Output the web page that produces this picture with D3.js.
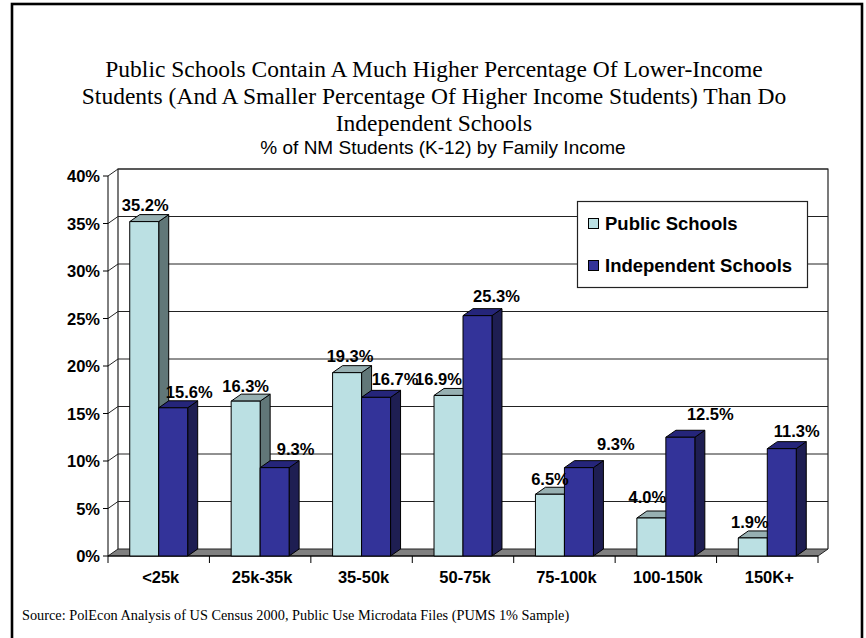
<!DOCTYPE html>
<html><head><meta charset="utf-8">
<script src="https://cdn.jsdelivr.net/npm/d3@7"></script>
<style>body{margin:0;background:#fff}svg{display:block}</style>
</head><body>
<svg id="c" width="866" height="638"></svg>
<script>
// ---- data ----
const categories = ["<25k","25k-35k","35-50k","50-75k","75-100k","100-150k","150K+"];
const seriesNames = ["Public Schools","Independent Schools"];
const publicValues = [35.2,16.3,19.3,16.9,6.5,4.0,1.9];
const independentValues = [15.6,9.3,16.7,25.3,9.3,12.5,11.3];
const yTicks = [0,5,10,15,20,25,30,35,40];
const titleLines = ["Public Schools Contain A Much Higher Percentage Of Lower-Income",
  "Students (And A Smaller Percentage Of Higher Income Students) Than Do",
  "Independent Schools"];
const subtitle = "% of NM Students (K-12) by Family Income";
const source = "Source: PolEcon Analysis of US Census 2000, Public Use Microdata Files (PUMS 1% Sample)";
// label nudges (layout, px) relative to bar top centre
const pubLabelNudgeX = [1,0,3,-10,0,-4,-3];
const pubLabelNudgeY = [-1,1,-1,0,1,-5,0];
const indLabelNudgeX = [16,21,19,19,37,30,15];
const indLabelNudgeY = [0,-3,-2,-4,-8,-7,-2];

const svg = d3.select("#c");
const L = 108, R = 818, T = 176, B = 556;
const DX = 10, DY = -7;
const ARIAL = "'Liberation Sans', Arial, sans-serif";
const TIMES = "'Liberation Serif', 'Times New Roman', serif";

const x = d3.scaleBand().domain(categories).range([L, R]).paddingInner(0).paddingOuter(0);
const xs = d3.scaleBand().domain(seriesNames).range([0, x.bandwidth()]).paddingInner(0).paddingOuter(0.75);
const y = d3.scaleLinear().domain([0, 40]).range([B, T]);

const colors = {
  "Public Schools": {front:"#BBE0E3", top:"#97B0B2", side:"#617778"},
  "Independent Schools": {front:"#333399", top:"#25257A", side:"#1E1E52"}
};

// outer frame
svg.append("rect").attr("x",12).attr("y",4).attr("width",850).attr("height",660)
  .attr("fill","none").attr("stroke","#000").attr("stroke-width",2.6);

// title
svg.append("g").selectAll("text").data(titleLines).join("text")
  .attr("x", 434).attr("y", (d,i)=>77 + i*27)
  .attr("text-anchor","middle").attr("font-family",TIMES).attr("font-size",23.5)
  .attr("fill","#000").text(d=>d);
svg.append("text").attr("x",443).attr("y",154).attr("text-anchor","middle")
  .attr("font-family",ARIAL).attr("font-size",19).text(subtitle);

// walls
const g = svg.append("g");
g.append("rect").attr("x",L+DX).attr("y",T+DY).attr("width",R-L).attr("height",B-T)
  .attr("fill","#fff").attr("stroke","none");
yTicks.forEach(t=>{
  if (t===0) return;
  const yy = y(t);
  g.append("line").attr("x1",L+DX).attr("x2",R+DX).attr("y1",yy+DY).attr("y2",yy+DY)
    .attr("stroke","#222").attr("stroke-width",1);
  g.append("line").attr("x1",L).attr("x2",L+DX).attr("y1",yy).attr("y2",yy+DY)
    .attr("stroke","#222").attr("stroke-width",1);
});
g.append("path").attr("d",`M${L+DX},${B+DY}V${T+DY}H${R+DX}V${B+DY}`)
  .attr("fill","none").attr("stroke","#222").attr("stroke-width",1.2);
g.append("path").attr("d",`M${L},${B}L${R},${B}L${R+DX},${B+DY}L${L+DX},${B+DY}Z`)
  .attr("fill","#808080").attr("stroke","#222").attr("stroke-width",1);

// y axis
g.append("line").attr("x1",L).attr("x2",L).attr("y1",T).attr("y2",B).attr("stroke","#000");
g.selectAll(".yt").data(yTicks).join("line").attr("x1",L-5).attr("x2",L)
  .attr("y1",d=>y(d)).attr("y2",d=>y(d)).attr("stroke","#000");
g.selectAll(".yl").data(yTicks).join("text").attr("x",L-8).attr("y",d=>y(d)+6)
  .attr("text-anchor","end").attr("font-family",ARIAL).attr("font-weight","bold")
  .attr("font-size",16.5).text(d=>d+"%");

// x axis
g.append("line").attr("x1",L).attr("x2",R).attr("y1",B).attr("y2",B).attr("stroke","#000");
const xt = categories.map(c=>x(c)).concat([R]);
g.selectAll(".xt").data(xt).join("line").attr("x1",d=>d).attr("x2",d=>d)
  .attr("y1",B).attr("y2",B+7).attr("stroke","#000");
g.selectAll(".xl").data(categories).join("text").attr("x",d=>x(d)+x.bandwidth()/2+2).attr("y",583)
  .attr("text-anchor","middle").attr("font-family",ARIAL).attr("font-weight","bold")
  .attr("font-size",16.5).text(d=>d);

// bars
const bw = xs.bandwidth();
function bar(cat, s, v) {
  const x0 = x(cat) + xs(s), x1 = x0 + bw, y0 = y(v), yb = y(0);
  const c = colors[s];
  const gg = g.append("g").attr("stroke","#000").attr("stroke-width",1).attr("stroke-linejoin","round");
  gg.append("path").attr("d",`M${x1},${yb}L${x1+DX},${yb+DY}L${x1+DX},${y0+DY}L${x1},${y0}Z`).attr("fill",c.side);
  gg.append("path").attr("d",`M${x0},${y0}L${x0+DX},${y0+DY}L${x1+DX},${y0+DY}L${x1},${y0}Z`).attr("fill",c.top);
  gg.append("rect").attr("x",x0).attr("y",y0).attr("width",bw).attr("height",yb-y0).attr("fill",c.front);
}
categories.forEach((cat,i)=>{
  bar(cat, seriesNames[0], publicValues[i]);
  bar(cat, seriesNames[1], independentValues[i]);
});
const lab = g.append("g").attr("font-family",ARIAL).attr("font-weight","bold").attr("font-size",16.5)
  .attr("text-anchor","middle").attr("fill","#000");
categories.forEach((cat,i)=>{
  const p = publicValues[i], q = independentValues[i];
  lab.append("text").attr("x", x(cat)+xs(seriesNames[0])+bw/2 + pubLabelNudgeX[i])
    .attr("y", y(p) - 10 + pubLabelNudgeY[i]).text(p.toFixed(1)+"%");
  lab.append("text").attr("x", x(cat)+xs(seriesNames[1])+bw/2 + indLabelNudgeX[i])
    .attr("y", y(q) - 10 + indLabelNudgeY[i]).text(q.toFixed(1)+"%");
});

// legend
const lg = svg.append("g");
lg.append("rect").attr("x",577.5).attr("y",201.5).attr("width",230).attr("height",86)
  .attr("fill","#fff").attr("stroke","#222").attr("stroke-width",1.2);
seriesNames.forEach((s,i)=>{
  lg.append("rect").attr("x",588.5).attr("y",218.5+i*42).attr("width",10).attr("height",10)
    .attr("fill",colors[s].front).attr("stroke","#000");
  lg.append("text").attr("x",605).attr("y",230+i*42).attr("font-family",ARIAL)
    .attr("font-weight","bold").attr("font-size",18.5).text(s);
});

// source
svg.append("text").attr("x",22).attr("y",620).attr("font-family",TIMES).attr("font-size",14.3).text(source);
</script>
</body></html>
